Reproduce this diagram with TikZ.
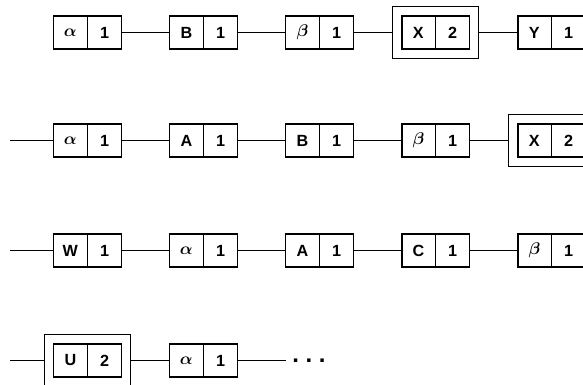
\documentclass[tikz,border=0pt]{standalone}
\usepackage{amsmath}
\usepackage{fontspec}
\setsansfont{Liberation Sans}
\usetikzlibrary{shapes.multipart,fit}

\tikzset{
  elem/.style={draw, line width=0.9pt, rectangle split, rectangle split horizontal, rectangle split parts=2,
    minimum height=0.825cm, inner sep=0pt, font=\fontsize{11.5}{13}\sffamily\bfseries\boldmath},
  outer/.style={draw, line width=0.9pt, inner sep=0.22cm},
  link/.style={line width=1.1pt},
}
\newcommand{\cellpair}[2]{\makebox[0.825cm]{#1}\nodepart{two}\makebox[0.825cm]{#2}}

\begin{document}
\begin{tikzpicture}[x=0.025cm, y=-0.025cm]
	\clip (0,0) rectangle (583,384);
	% first row
	\node[elem] (a1) at (87.5,32.5) {\cellpair{$\alpha$}{1}};
	\node[elem] (b1) at (203.5,32.5) {\cellpair{B}{1}};
	\node[elem] (c1) at (319.5,32.5) {\cellpair{$\beta$}{1}};
	\node[elem] (d1) at (435.5,32.5) {\cellpair{X}{2}}; \node[outer, fit=(d1)] (o1) {};
	\node[elem] (e1) at (551.5,32.5) {\cellpair{Y}{1}};
	\draw[link] (a1) -- (b1); \draw[link] (b1) -- (c1); \draw[link] (c1) -- (o1); \draw[link] (o1) -- (e1);
	% second row
	\coordinate (s2) at (10,140.5);
	\node[elem] (a2) at (87.5,140.5) {\cellpair{$\alpha$}{1}};
	\node[elem] (b2) at (203.5,140.5) {\cellpair{A}{1}};
	\node[elem] (c2) at (319.5,140.5) {\cellpair{B}{1}};
	\node[elem] (d2) at (435.5,140.5) {\cellpair{$\beta$}{1}};
	\node[elem] (e2) at (551.5,140.5) {\cellpair{X}{2}}; \node[outer, fit=(e2)] (o2) {};
	\draw[link] (s2) -- (a2); \draw[link] (a2) -- (b2); \draw[link] (b2) -- (c2); \draw[link] (c2) -- (d2); \draw[link] (d2) -- (o2);
	% third row
	\coordinate (s3) at (10,250.5);
	\node[elem] (a3) at (87.5,250.5) {\cellpair{W}{1}};
	\node[elem] (b3) at (203.5,250.5) {\cellpair{$\alpha$}{1}};
	\node[elem] (c3) at (319.5,250.5) {\cellpair{A}{1}};
	\node[elem] (d3) at (435.5,250.5) {\cellpair{C}{1}};
	\node[elem] (e3) at (551.5,250.5) {\cellpair{$\beta$}{1}};
	\draw[link] (s3) -- (a3); \draw[link] (a3) -- (b3); \draw[link] (b3) -- (c3); \draw[link] (c3) -- (d3); \draw[link] (d3) -- (e3);
	% fourth row
	\coordinate (s4) at (10,360.5);
	\node[elem] (a4) at (87.5,360.5) {\cellpair{U}{2}}; \node[outer, fit=(a4)] (o4) {};
	\node[elem] (b4) at (203.5,360.5) {\cellpair{$\alpha$}{1}};
	\coordinate (t4) at (286,360.5);
	\node[font=\fontsize{17}{19}\sffamily\bfseries, inner sep=0pt] (more) at (309,360.5) {.\ .\ .};
	\draw[link] (s4) -- (o4); \draw[link] (o4) -- (b4); \draw[link] (b4) -- (t4);
\end{tikzpicture}
\end{document}
